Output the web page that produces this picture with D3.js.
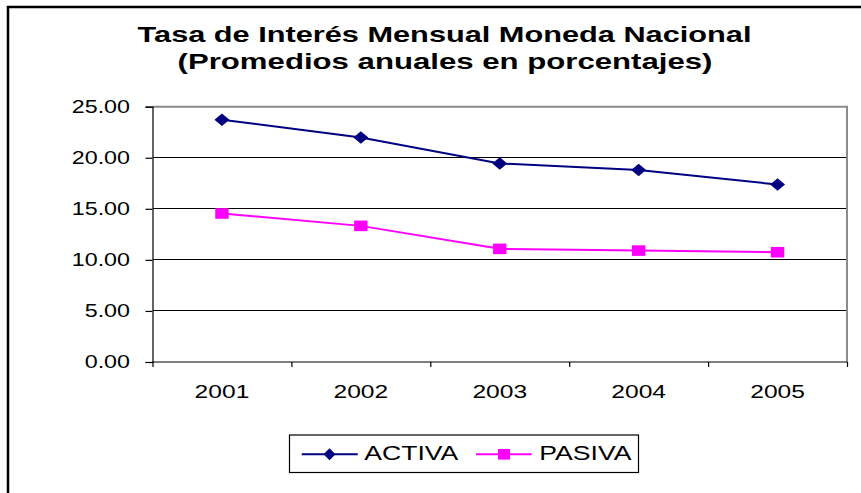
<!DOCTYPE html>
<html><head><meta charset="utf-8">
<script src="https://cdn.jsdelivr.net/npm/d3@7"></script>
<style>body{margin:0;background:#fff}svg{display:block;font-family:"Liberation Sans",Arial,sans-serif}</style>
</head><body><svg id="c" width="861" height="493"></svg>
<script>
const years = ["2001","2002","2003","2004","2005"];
const activa = [23.73, 21.99, 19.44, 18.79, 17.38];
const pasiva = [14.54, 13.33, 11.08, 10.91, 10.75];
const yTicks = [0, 5, 10, 15, 20, 25];
const seriesNames = ["ACTIVA", "PASIVA"];
const titleLines = ["Tasa de Interés Mensual Moneda Nacional", "(Promedios anuales en porcentajes)"];

const SX = 1.33;
const svg = d3.select("#c");
svg.append("rect").attr("x", 8).attr("y", 7).attr("width", 900).attr("height", 520)
  .attr("fill", "#fff").attr("stroke", "#000").attr("stroke-width", 2.5);

const L = 152.5, R = 847, T = 106.7, B = 362;
const x = d3.scaleBand().domain(years).range([L, R]);
const y = d3.scaleLinear().domain([0, 25]).range([B, T]);

function stext(g, tx, ty, str, size, weight, anchor, sx) {
  const t = g.append("g").attr("transform", `translate(${tx},${ty}) scale(${sx || SX},1)`)
    .append("text").text(str).attr("font-size", size).attr("fill", "#000")
    .attr("text-anchor", anchor || "middle");
  if (weight) t.attr("font-weight", weight);
  return t;
}

// title
stext(svg, 444.5, 41.7, titleLines[0], 21.8, "bold", "middle", 1.41);
stext(svg, 445, 68.8, titleLines[1], 21.8, "bold", "middle", 1.43);

// gridlines
svg.append("g").selectAll("line").data(yTicks.filter(d => d > 0 && d < 25)).join("line")
  .attr("x1", L).attr("x2", R).attr("y1", d => y(d)).attr("y2", d => y(d))
  .attr("stroke", "#000").attr("stroke-width", 1).attr("shape-rendering", "crispEdges");
// gray top/right border
svg.append("path").attr("d", `M${L},${T}H${R}V${B}`).attr("fill", "none")
  .attr("stroke", "#8c8c8c").attr("stroke-width", 2);

// y axis
const yAxis = d3.axisLeft(y).tickValues(yTicks).tickSize(7).tickFormat(() => "");
const ya = svg.append("g").attr("transform", `translate(${L},0)`).call(yAxis);
ya.selectAll("path,line").attr("stroke", "#000").attr("stroke-width", 1.2);
yTicks.forEach(v => stext(svg, 130, y(v) + 6, d3.format(".2f")(v), 17.5, null, "end"));

// x axis
const xLin = d3.scaleLinear().domain([0, years.length]).range([L, R]);
const xAxis = d3.axisBottom(xLin).tickValues(d3.range(years.length + 1)).tickSize(5).tickFormat(() => "");
const xa = svg.append("g").attr("transform", `translate(0,${B})`).call(xAxis);
xa.selectAll("path,line").attr("stroke", "#000").attr("stroke-width", 1.2);
xa.select("path").attr("d", `M${L},0H${R}`);
years.forEach(yr => stext(svg, x(yr) + x.bandwidth() / 2, 397.7, yr, 18.5));

const cx = d => x(d) + x.bandwidth() / 2;
const line = d3.line().x((d, i) => cx(years[i])).y(d => y(d));

svg.append("path").datum(activa).attr("d", line).attr("fill", "none")
  .attr("stroke", "#000080").attr("stroke-width", 2);
svg.append("path").datum(pasiva).attr("d", line).attr("fill", "none")
  .attr("stroke", "#ff00ff").attr("stroke-width", 2);

const diamond = (w, h) => `M0,${-h/2}L${w/2},0L0,${h/2}L${-w/2},0Z`;
svg.append("g").selectAll("path").data(activa).join("path")
  .attr("transform", (d, i) => `translate(${cx(years[i])},${y(d)})`)
  .attr("d", diamond(15, 12.5)).attr("fill", "#000080");
svg.append("g").selectAll("rect").data(pasiva).join("rect")
  .attr("x", (d, i) => cx(years[i]) - 6.7).attr("y", d => y(d) - 5.3)
  .attr("width", 13.4).attr("height", 10.6).attr("fill", "#ff00ff");

// legend
const lg = svg.append("g");
lg.append("rect").attr("x", 289.5).attr("y", 435).attr("width", 349).attr("height", 37.5)
  .attr("fill", "#fff").attr("stroke", "#000").attr("stroke-width", 1.2);
lg.append("line").attr("x1", 301.7).attr("x2", 357.7).attr("y1", 454.3).attr("y2", 454.3)
  .attr("stroke", "#000080").attr("stroke-width", 2);
lg.append("path").attr("transform", "translate(329.5,454.3)").attr("d", diamond(12, 12)).attr("fill", "#000080");
stext(lg, 364.3, 459.5, seriesNames[0], 20, null, "start");
lg.append("line").attr("x1", 476).attr("x2", 531.7).attr("y1", 454.3).attr("y2", 454.3)
  .attr("stroke", "#ff00ff").attr("stroke-width", 2);
lg.append("rect").attr("x", 504 - 6).attr("y", 454.3 - 5.3).attr("width", 12).attr("height", 10.6).attr("fill", "#ff00ff");
stext(lg, 539.3, 459.5, seriesNames[1], 20, null, "start");
</script></body></html>
